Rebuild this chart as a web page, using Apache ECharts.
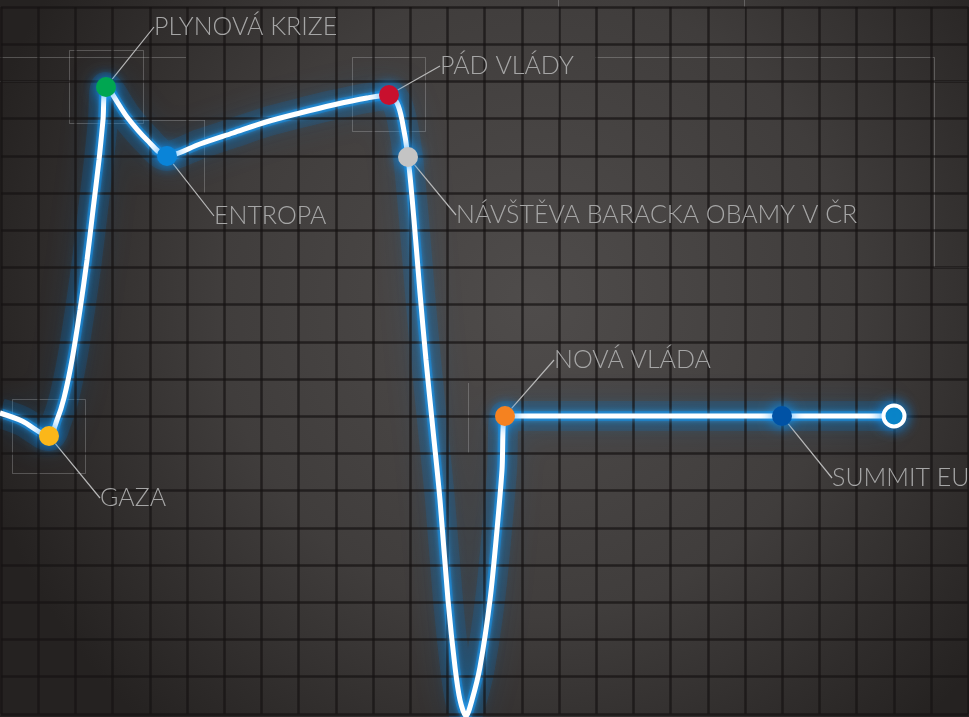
<!DOCTYPE html>
<html>
<head>
<meta charset="utf-8">
<script src="https://cdn.jsdelivr.net/npm/echarts@6/dist/echarts.min.js"></script>
<style>
html,body{margin:0;padding:0;background:#2b2827;overflow:hidden;}
#c{width:969px;height:717px;}
</style>
</head>
<body>
<div id="c"></div>
<script>
// ---- data (x: timeline position, y: "nálada" index) ----
const pathX = [0, 2.2, 4.9, 5.7, 6.4, 7.2, 8.0, 8.7, 9.3, 9.9, 10.3, 10.6, 12.7, 14.7, 16.7, 20.0, 23.3, 26.6, 30.0, 33.3, 36.7, 38.9, 39.7, 40.2, 40.8, 41.4, 42.0, 42.6, 43.3, 44.0, 44.8, 45.5, 46.0, 46.6, 47.2, 48.0, 49.0, 49.7, 50.2, 50.5, 52.0, 78.2, 89.4];
const pathY = [30.4, 29.6, 28.1, 29.7, 31.9, 35.7, 40.7, 45.7, 50.7, 55.7, 59.7, 63.0, 60.0, 57.7, 56.1, 57.3, 58.4, 59.5, 60.4, 61.2, 61.9, 62.2, 61.4, 59.7, 56.0, 49.7, 42.4, 35.7, 28.7, 21.7, 11.7, 5.0, 1.7, 0.1, 1.7, 5.0, 11.7, 18.7, 24.7, 30.1, 30.1, 30.1, 30.1];

const eventNames = ['GAZA', 'PLYNOVÁ KRIZE', 'ENTROPA', 'PÁD VLÁDY', 'NÁVŠTĚVA BARACKA OBAMY V ČR', 'NOVÁ VLÁDA', 'SUMMIT EU'];
const eventX = [4.9, 10.6, 16.7, 38.9, 40.8, 50.5, 78.2];
const eventY = [28.1, 63.0, 56.1, 62.2, 56.0, 30.1, 30.1];

// ---- styles ----
const eventColors = ['#fbb719', '#00a651', '#0a84d8', '#c8102e', '#c4c4c4', '#f58220', '#0052a5'];
// label shift (px) and side (top: label above point, bottom: label below)
const labelShift = [
  {dx: 36, dy: 62, side: 'bottom'},
  {dx: 33, dy: -60, side: 'top'},
  {dx: 32, dy: 60, side: 'bottom'},
  {dx: 36, dy: -29, side: 'top'},
  {dx: 33, dy: 58, side: 'bottom'},
  {dx: 34, dy: -56, side: 'top'},
  {dx: 35, dy: 62, side: 'bottom'}
];

const pathData = pathX.map((x, i) => [x, pathY[i]]);
const eventData = eventNames.map((n, i) => ({
  name: n,
  value: [eventX[i], eventY[i]],
  itemStyle: {color: eventColors[i]},
  label: {padding: labelShift[i].side === 'top' ? [0, 0, 20, 0] : [20, 0, 0, 0]}
}));
const endData = [[pathX[pathX.length - 1], pathY[pathY.length - 1]]];

const W = 969, H = 717;
const chart = echarts.init(document.getElementById('c'), null, {renderer: 'canvas', width: W, height: H});

const deco = 'rgba(210,210,210,0.28)';
function seg(points) {
  return {type: 'polyline', silent: true, z: -5, shape: {points: points}, style: {stroke: deco, lineWidth: 1, fill: null}};
}
function box(x, y, w, h) {
  return {type: 'rect', silent: true, z: -5, shape: {x: x + 0.5, y: y + 0.5, width: w, height: h}, style: {stroke: deco, lineWidth: 1, fill: null}};
}
const tileLine = {show: true, lineStyle: {color: 'rgba(22,20,19,0.72)', width: 2.5}};

chart.setOption({
  animation: false,
  graphic: [
    {type: 'rect', silent: true, z: -100, shape: {x: 0, y: 0, width: W, height: H},
      style: {fill: new echarts.graphic.RadialGradient(0.55, 0.42, 0.8, [
        {offset: 0, color: '#4f4c4b'},
        {offset: 0.55, color: '#403d3c'},
        {offset: 1, color: '#252221'}
      ])}},
    seg([[0, 57.5], [186, 57.5]]),
    seg([[0, 81.5], [70, 81.5]]),
    box(69, 50, 74, 73),
    box(352, 57, 73, 74),
    seg([[595, 57.5], [934.5, 57.5], [934.5, 267.5], [969, 267.5]]),
    seg([[934.5, 81.5], [969, 81.5]]),
    seg([[558.5, 0], [558.5, 118]]),
    seg([[744.5, 0], [744.5, 118]]),
    seg([[204.5, 120], [204.5, 193]]),
    seg([[130, 120.5], [204.5, 120.5]]),
    seg([[446.5, 120], [446.5, 193]]),
    box(12, 399, 73, 74),
    seg([[468.5, 383], [468.5, 453]])
  ],
  grid: [
    {left: 0, right: 0, top: 0, bottom: 0},
    {left: 1, top: 7, width: 967.2, height: 706.8}
  ],
  xAxis: [
    {type: 'value', gridIndex: 0, min: 0, max: 96.9, show: false},
    {type: 'value', gridIndex: 1, min: 0, max: 26, interval: 1, z: 2, axisLine: {show: false}, axisTick: {show: false}, axisLabel: {show: false}, splitLine: tileLine}
  ],
  yAxis: [
    {type: 'value', gridIndex: 0, min: 0, max: 71.7, show: false},
    {type: 'value', gridIndex: 1, min: 0, max: 19, interval: 1, z: 2, axisLine: {show: false}, axisTick: {show: false}, axisLabel: {show: false}, splitLine: tileLine}
  ],
  series: [
    {
      type: 'line', xAxisIndex: 0, yAxisIndex: 0, data: pathData, smooth: 0.3, showSymbol: false, silent: true, z: 1,
      lineStyle: {width: 30, color: 'rgba(0,120,210,0.16)', shadowBlur: 30, shadowColor: 'rgba(0,130,230,0.7)'}
    },
    {
      type: 'line', xAxisIndex: 0, yAxisIndex: 0, data: pathData, smooth: 0.3, showSymbol: false, silent: true, z: 1,
      lineStyle: {width: 10, color: 'rgba(0,140,230,0.45)', shadowBlur: 16, shadowColor: 'rgba(0,150,245,0.9)'}
    },
    {
      type: 'line', xAxisIndex: 0, yAxisIndex: 0, data: pathData, smooth: 0.3, showSymbol: false, silent: true, z: 3,
      lineStyle: {width: 5, color: '#ffffff', shadowBlur: 6, shadowColor: 'rgba(60,170,255,1)'}
    },
    {
      type: 'scatter', xAxisIndex: 0, yAxisIndex: 0, data: eventData, symbolSize: 20, z: 5,
      itemStyle: {opacity: 1, shadowBlur: 14, shadowColor: 'rgba(10,150,255,0.95)'},
      label: {
        show: true, position: 'right', distance: 5, formatter: '{b}',
        color: '#a6a6a6', fontSize: 25, fontFamily: 'Lato', fontWeight: 300,
        backgroundColor: 'rgba(0,0,0,0)'
      },
      labelLayout: function (p) {
        const s = labelShift[p.dataIndex];
        return {dx: s.dx, dy: s.dy};
      },
      labelLine: {show: true, length2: 0, lineStyle: {color: '#b8b8b8', width: 1.2}}
    },
    {
      type: 'scatter', xAxisIndex: 0, yAxisIndex: 0, data: endData, symbolSize: 21, z: 5,
      itemStyle: {opacity: 1, color: '#0a7db3', borderColor: '#ffffff', borderWidth: 4, shadowBlur: 14, shadowColor: 'rgba(10,150,255,0.95)'}
    }
  ]
});
</script>
</body>
</html>
